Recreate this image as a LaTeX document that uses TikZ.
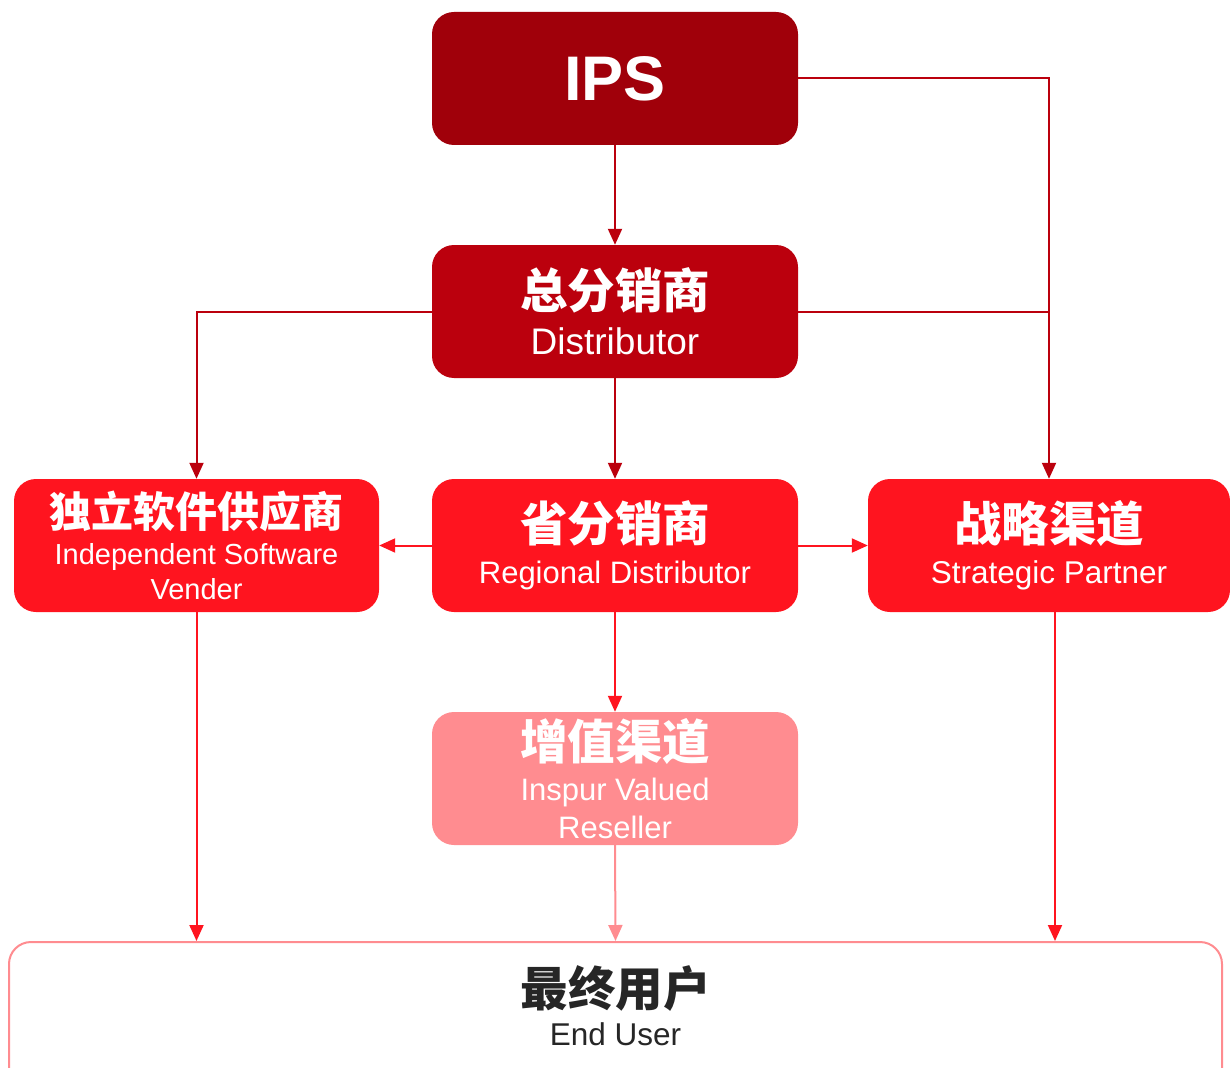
\documentclass[tikz,border=0pt]{standalone}
\usepackage{fontspec}
\setmainfont{Liberation Sans}
\newfontfamily\cjk{Noto Sans CJK SC}
\usetikzlibrary{arrows.meta}
\definecolor{ipsred}{HTML}{A0000A}
\definecolor{distred}{HTML}{BB000D}
\definecolor{brightred}{HTML}{FF141F}
\definecolor{pinkred}{HTML}{FF8C90}
\definecolor{darktext}{HTML}{262626}
\newcommand{\cnt}[2]{{\fontsize{#1}{#1}\selectfont\cjk\bfseries #2}}
\begin{document}
\begin{tikzpicture}[x=1pt,y=-1pt,
  box/.style={rounded corners=22pt, minimum width=366pt, minimum height=133pt,
    inner sep=0pt, text=white, align=center},
  conn/.style={line width=2pt},
  arr/.style={conn, -{Triangle[length=16pt,width=14pt]}}]
\useasboundingbox (0,0) rectangle (1230,1067);

\node[box, fill=ipsred, font=\fontsize{63}{63}\selectfont\bfseries] (ips) at (615,78.5) {IPS};
\node[box, fill=distred, font=\fontsize{37}{46}\selectfont] (dist) at (615,311.5)
  {\cnt{47.5}{总分销商}\\Distributor};
\node[box, fill=brightred, minimum width=365pt, font=\fontsize{29}{35}\selectfont] (isv) at (196.5,545.5)
  {\cnt{42}{独立软件供应商}\\[2.5pt]Independent Software\\Vender};
\node[box, fill=brightred, font=\fontsize{31}{42}\selectfont] (reg) at (615,545.5)
  {\cnt{47.5}{省分销商}\\Regional Distributor};
\node[box, fill=brightred, minimum width=362pt, font=\fontsize{31.5}{42}\selectfont] (sp) at (1049,545.5)
  {\cnt{47.5}{战略渠道}\\Strategic Partner};
\node[box, fill=pinkred, font=\fontsize{31}{38}\selectfont] (var) at (615,778.5)
  {\cnt{47.5}{增值渠道}\\[3pt]Inspur Valued\\Reseller};
\node[rounded corners=22pt, draw=pinkred, line width=2pt, fill=white,
  minimum width=1213pt, minimum height=200pt, inner sep=0pt] (eu) at (615.5,1042) {};
\node[text=darktext, align=center, inner sep=0pt, font=\fontsize{31.5}{39}\selectfont] (eut) at (615.5,1006)
  {\cnt{47.5}{最终用户}\\End User};

% connectors
\draw[arr, color=distred] (ips.south) -- (dist.north);
\draw[arr, color=distred] (ips.east) -| (sp.north);
\draw[conn, color=distred] (dist.east) -- (dist.east -| sp.north);
\draw[arr, color=distred] (dist.west) -| (isv.north);
\draw[arr, color=distred] (dist.south) -- (reg.north);
\draw[arr, color=brightred] (reg.west) -- (isv.east);
\draw[arr, color=brightred] (reg.east) -- (sp.west);
\draw[arr, color=brightred] (reg.south) -- (var.north);
\draw[arr, color=brightred] (isv.south) -- (isv.south |- eu.north);
\draw[arr, color=pinkred] (var.south) -- (eu.north);
\draw[arr, color=brightred] ([xshift=6pt,yshift=3pt]sp.south) -- ([xshift=6pt]sp.south |- eu.north);
\end{tikzpicture}
\end{document}
